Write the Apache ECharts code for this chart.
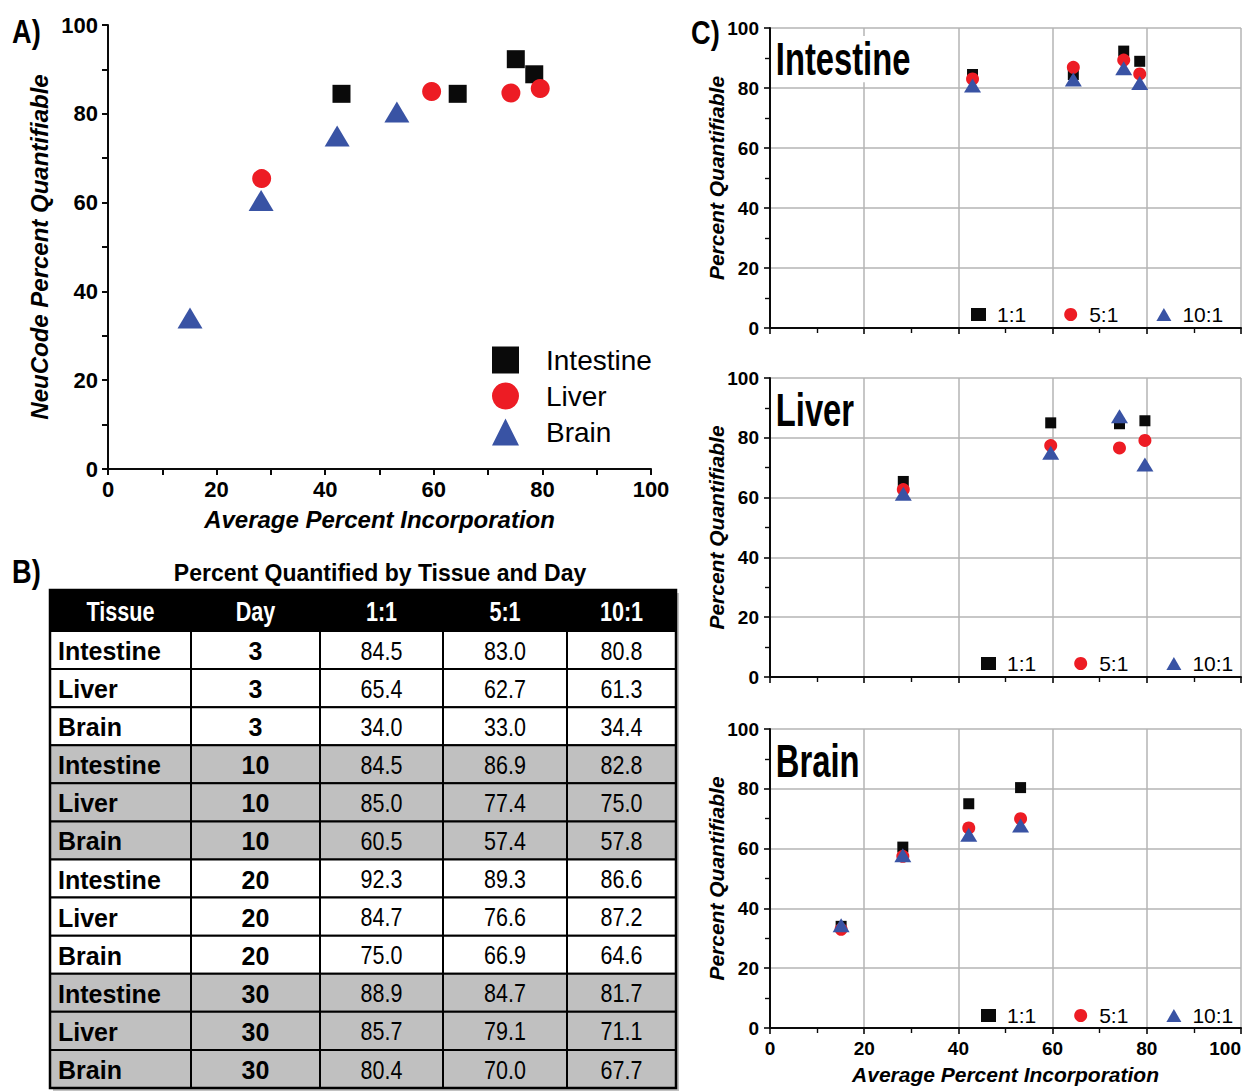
<!DOCTYPE html>
<html>
<head>
<meta charset="utf-8">
<title>NeuCode percent quantifiable</title>
<script src="https://cdn.jsdelivr.net/npm/echarts@6/dist/echarts.min.js"></script>
<style>
  html, body { margin: 0; padding: 0; background: #ffffff; }
  #chart { width: 1249px; height: 1091px; }
</style>
</head>
<body>
<div id="chart"></div>
<script>
// NeuCode labelling: fraction of peptides quantifiable versus average label incorporation
const tissues = ['Intestine', 'Liver', 'Brain'];
const days = [3, 10, 20, 30];
const ratios = ['1:1', '5:1', '10:1'];
const tableHeader = ['Tissue', 'Day', '1:1', '5:1', '10:1'];
const labelledTicks = [0, 20, 40, 60, 80, 100];

// Average percent incorporation at days 3, 10, 20, 30
const incorporationIntestine = [43.0, 64.4, 75.1, 78.5];
const incorporationLiver = [28.3, 59.6, 74.2, 79.6];
const incorporationBrain = [15.1, 28.2, 42.2, 53.2];

// Percent quantified at days 3, 10, 20, 30 for each mixing ratio
const intestine1to1 = [84.5, 84.5, 92.3, 88.9];
const intestine5to1 = [83.0, 86.9, 89.3, 84.7];
const intestine10to1 = [80.8, 82.8, 86.6, 81.7];
const liver1to1 = [65.4, 85.0, 84.7, 85.7];
const liver5to1 = [62.7, 77.4, 76.6, 79.1];
const liver10to1 = [61.3, 75.0, 87.2, 71.1];
const brain1to1 = [34.0, 60.5, 75.0, 80.4];
const brain5to1 = [33.0, 57.4, 66.9, 70.0];
const brain10to1 = [34.4, 57.8, 64.6, 67.7];

const incorporation = {
  Intestine: incorporationIntestine,
  Liver: incorporationLiver,
  Brain: incorporationBrain
};
const quantified = {
  Intestine: [intestine1to1, intestine5to1, intestine10to1],
  Liver: [liver1to1, liver5to1, liver10to1],
  Brain: [brain1to1, brain5to1, brain10to1]
};

const SANS = "'Liberation Sans', Arial, sans-serif";
const INK = '#0a0a0a';
const GRID_GRAY = '#b4b4b4';

const tissueStyle = {
  Intestine: { color: INK, symbol: 'rect', sizeA: 18 },
  Liver: { color: '#ed1c24', symbol: 'circle', sizeA: 19 },
  Brain: { color: '#3953a4', symbol: 'triangle', sizeA: [25, 21] }
};
const ratioStyle = [
  { color: INK, symbol: 'rect', size: 11 },
  { color: '#ed1c24', symbol: 'circle', size: 13 },
  { color: '#3953a4', symbol: 'triangle', size: [17, 14] }
];

// ---------- grids: A on the left, C stacked on the right ----------
const grids = [
  { left: 108, top: 25, width: 543, height: 444 },
  { left: 770, top: 28, width: 471, height: 300 },
  { left: 770, top: 378, width: 471, height: 299 },
  { left: 770, top: 729, width: 471, height: 299 }
].map(g => Object.assign({ containLabel: false, outerBoundsMode: 'none', show: false }, g));

const blackLine = { color: INK, width: 2 };

function panelAAxis(gridIndex, isX) {
  return {
    type: 'value', gridIndex, min: 0, max: 100, interval: 10,
    axisLine: { show: true, onZero: false, lineStyle: blackLine },
    axisTick: { show: true, length: 6, lineStyle: blackLine },
    axisLabel: {
      show: true, margin: isX ? 9 : 10, color: '#000',
      fontFamily: SANS, fontWeight: 'bold', fontSize: 22,
      formatter: v => (labelledTicks.indexOf(v) >= 0 ? String(v) : '')
    },
    splitLine: { show: false },
    name: isX ? 'Average Percent Incorporation' : 'NeuCode Percent Quantifiable',
    nameLocation: 'middle',
    nameGap: isX ? 38 : 57,
    nameMoveOverlap: false,
    nameTextStyle: { fontFamily: SANS, fontWeight: 'bold', fontStyle: 'italic', fontSize: 24, color: '#000' }
  };
}

function panelCAxis(gridIndex, isX, withLabels) {
  const ax = {
    type: 'value', gridIndex, min: 0, max: 100, interval: 20,
    axisLine: { show: true, onZero: false, lineStyle: blackLine },
    axisTick: { show: true, length: 6, lineStyle: { color: INK, width: 1.6 } },
    minorTick: { show: true, splitNumber: 2, length: 5, lineStyle: { color: INK, width: 1.4 } },
    axisLabel: {
      show: withLabels, margin: 11, color: '#000',
      fontFamily: SANS, fontWeight: 'bold', fontSize: 19
    },
    splitLine: { show: true, lineStyle: { color: GRID_GRAY, width: 1.5 } }
  };
  if (isX) {
    ax.axisLabel.alignMaxLabel = 'right';
    if (withLabels) {
      ax.name = 'Average Percent Incorporation';
      ax.nameLocation = 'middle';
      ax.nameGap = 36;
      ax.nameMoveOverlap = false;
      ax.nameTextStyle = { fontFamily: SANS, fontWeight: 'bold', fontStyle: 'italic', fontSize: 21, color: '#000' };
    }
  } else {
    ax.name = 'Percent Quantifiable';
    ax.nameLocation = 'middle';
    ax.nameGap = 43;
    ax.nameMoveOverlap = false;
    ax.nameTextStyle = { fontFamily: SANS, fontWeight: 'bold', fontStyle: 'italic', fontSize: 21, color: '#000' };
  }
  return ax;
}

const xAxes = [panelAAxis(0, true), panelCAxis(1, true, false), panelCAxis(2, true, false), panelCAxis(3, true, true)];
const yAxes = [panelAAxis(0, false), panelCAxis(1, false, true), panelCAxis(2, false, true), panelCAxis(3, false, true)];

// ---------- series ----------
const series = [];
// Panel A: 1:1 mix for every tissue
tissues.forEach(t => {
  const st = tissueStyle[t];
  series.push({
    name: t, type: 'scatter', xAxisIndex: 0, yAxisIndex: 0,
    symbol: st.symbol, symbolSize: st.sizeA,
    itemStyle: { color: st.color, opacity: 1 },
    data: incorporation[t].map((x, i) => [x, quantified[t][0][i]])
  });
});
// Panel C: one grid per tissue, all three ratios
tissues.forEach((t, ti) => {
  ratios.forEach((r, ri) => {
    const st = ratioStyle[ri];
    series.push({
      name: r, type: 'scatter', xAxisIndex: ti + 1, yAxisIndex: ti + 1,
      symbol: st.symbol, symbolSize: st.size,
      itemStyle: { color: st.color, opacity: 1 },
      data: incorporation[t].map((x, i) => [x, quantified[t][ri][i]])
    });
  });
});

// ---------- legends ----------
const legends = [
  {
    orient: 'vertical', left: 487, top: 341, itemWidth: 27, itemHeight: 27, itemGap: 8,
    selectedMode: false, data: tissues,
    textStyle: { fontFamily: SANS, fontSize: 28, color: '#000', padding: [0, 0, 0, 22] }
  }
];
[[966, 299], [976, 648], [976, 1000]].forEach(([left, top]) => {
  legends.push({
    orient: 'horizontal', left, top, itemWidth: 15, itemHeight: 13, itemGap: 38,
    selectedMode: false, data: ratios,
    textStyle: { fontFamily: SANS, fontSize: 21, color: '#000', padding: [0, 0, 0, 6] }
  });
});

// ---------- graphic: panel letters, panel C titles and table B ----------
const graphics = [];
function label(text, x, y, font, o) {
  o = o || {};
  graphics.push({
    type: 'text', x, y, z: 100,
    scaleX: o.sx || 1, scaleY: o.sy || 1,
    style: {
      text, font, fill: o.fill || '#000',
      align: o.align || 'left', textAlign: o.align || 'left',
      verticalAlign: o.va || 'middle', textVerticalAlign: o.va || 'middle',
      backgroundColor: o.bg, padding: o.pad
    }
  });
}
const letterFont = "bold 34px " + SANS;
label('A)', 12, 31, letterFont, { sx: 0.8 });
label('B)', 12, 571, letterFont, { sx: 0.8 });
label('C)', 691, 32, letterFont, { sx: 0.8 });

[['Intestine', 36], ['Liver', 387], ['Brain', 738]].forEach(([name, y]) => {
  label(name, 775, y, "bold 42px " + SANS, { sx: 0.78, sy: 1.1, va: 'top', bg: '#ffffff', pad: [0, 3, 0, 1] });
});

label('Percent Quantified by Tissue and Day', 380, 573, "bold 23px " + SANS, { align: 'center' });

// Table B
const colEdges = [50, 191, 320, 443, 567, 676];
const headTop = 590, headBottom = 631, tableBottom = 1088;
const rowH = (tableBottom - headBottom) / (days.length * tissues.length);
const tableRows = [];
days.forEach((d, di) => {
  tissues.forEach(t => {
    tableRows.push({ tissue: t, day: d, shaded: di % 2 === 1,
      values: quantified[t].map(arr => arr[di]) });
  });
});

// drop shadow and header band
graphics.push({ type: 'rect', z: 90, shape: { x: colEdges[0] + 3, y: headTop + 3, width: colEdges[5] - colEdges[0], height: tableBottom - headTop }, style: { fill: '#9a9a9a', opacity: 0.6 } });
graphics.push({ type: 'rect', z: 91, shape: { x: colEdges[0], y: headTop, width: colEdges[5] - colEdges[0], height: headBottom - headTop }, style: { fill: '#000' } });
tableHeader.forEach((h, ci) => {
  label(h, (colEdges[ci] + colEdges[ci + 1]) / 2, (headTop + headBottom) / 2 + 1, "bold 27px " + SANS,
    { fill: '#fff', align: 'center', sx: 0.8 });
});
tableRows.forEach((row, ri) => {
  const y0 = headBottom + ri * rowH;
  const cy = y0 + rowH / 2 + 1;
  for (let ci = 0; ci < 5; ci++) {
    graphics.push({ type: 'rect', z: 91,
      shape: { x: colEdges[ci], y: y0, width: colEdges[ci + 1] - colEdges[ci], height: rowH },
      style: { fill: row.shaded ? '#c0c0c0' : '#ffffff', stroke: '#000', lineWidth: 2 } });
  }
  label(row.tissue, colEdges[0] + 8, cy, "bold 25px " + SANS);
  label(String(row.day), (colEdges[1] + colEdges[2]) / 2, cy, "bold 25px " + SANS, { align: 'center' });
  row.values.forEach((v, vi) => {
    label(v.toFixed(1), (colEdges[vi + 2] + colEdges[vi + 3]) / 2, cy, "25px " + SANS,
      { align: 'center', sx: 0.86 });
  });
});
graphics.push({ type: 'rect', z: 99, shape: { x: colEdges[0], y: headTop, width: colEdges[5] - colEdges[0], height: tableBottom - headTop }, style: { fill: 'none', stroke: '#000', lineWidth: 2.5 } });

const chart = echarts.init(document.getElementById('chart'), null, { renderer: 'svg', width: 1249, height: 1091 });
chart.setOption({
  animation: false,
  backgroundColor: '#ffffff',
  grid: grids,
  xAxis: xAxes,
  yAxis: yAxes,
  legend: legends,
  series,
  graphic: { elements: graphics }
});
</script>
</body>
</html>
